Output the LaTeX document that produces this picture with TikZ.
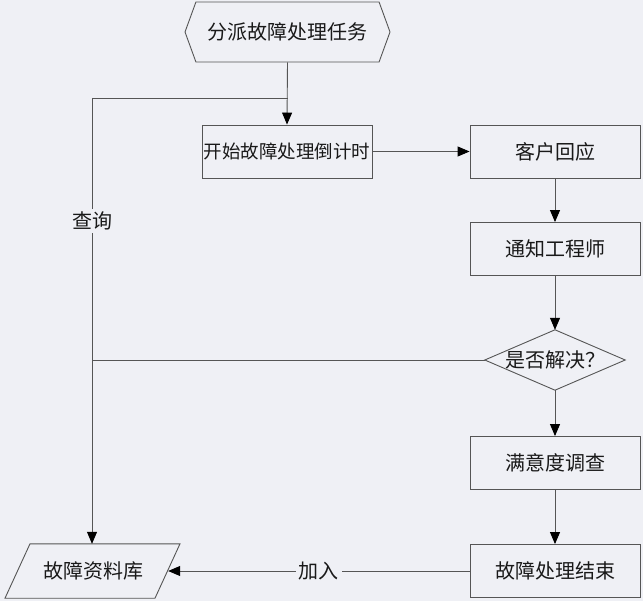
\documentclass[tikz,border=0pt]{standalone}
\usepackage{fontspec}
\newfontfamily\cjk{Noto Sans CJK SC}
\usetikzlibrary{shapes.geometric,shapes.symbols,arrows.meta}
\definecolor{bgc}{RGB}{239,240,245}
\definecolor{linec}{RGB}{85,85,85}
\definecolor{txtc}{RGB}{25,25,25}
\tikzset{
  base/.style={font=\cjk\fontsize{20}{24}\selectfont, text=txtc, inner sep=0pt},
  procbox/.style={base, draw=linec, line width=0.9pt, rectangle, minimum width=170pt, minimum height=53pt},
  hexbox/.style={base, draw=linec, line width=0.9pt, signal, signal to=west and east, signal pointer angle=140, minimum width=205pt, minimum height=60pt},
  textonly/.style={base, rectangle, minimum width=150pt, minimum height=54pt},
  decbox/.style={base, rectangle, minimum width=140pt, minimum height=60pt},
  conn/.style={draw=linec, line width=0.9pt},
  arr/.style={conn, -{Triangle[length=12pt,width=10pt,fill=black,color=black]}},
  lbl/.style={base, fill=bgc, inner sep=3pt}
}
\begin{document}
\begin{tikzpicture}[x=1pt,y=-1pt]
\fill[bgc] (0,0) rectangle (643,601);
\useasboundingbox (0,0) rectangle (643,601);

\node[hexbox] (hex) at (287.5,32) {分派故障处理任务};
\node[procbox, font=\cjk\fontsize{18.5}{22}\selectfont] (timer) at (287,151.5) {开始故障处理倒计时};
\node[procbox] (reply) at (555,151.5) {客户回应};
\node[procbox] (notify) at (555,249) {通知工程师};
\node[decbox] (solved) at (555,360) {是否解决？};
\draw[conn] (solved.west) -- (solved.north) -- (solved.east) -- (solved.south) -- cycle;
\node[procbox] (survey) at (555,463) {满意度调查};
\node[procbox] (finish) at (555,571) {故障处理结束};
\node[textonly] (db) at (93,571) {故障资料库};
\draw[conn] ([xshift=-88pt]db.south) -- ([xshift=-63pt]db.north) -- ([xshift=87pt]db.north) -- ([xshift=62pt]db.south) -- cycle;

\coordinate (q1) at (92,98);

\draw[arr] (hex.south) -- (timer.north);
\draw[conn] (q1) -- (hex.south |- q1);
\draw[arr] (q1) -- (q1 |- db.north);
\draw[conn] (solved.west) -- (q1 |- solved.west);
\node[lbl] (query) at (92,221) {查询};
\draw[arr] (timer.east) -- (reply.west);
\draw[arr] (reply.south) -- (notify.north);
\draw[arr] (notify.south) -- (solved.north);
\draw[arr] (solved.south) -- (survey.north);
\draw[arr] (survey.south) -- (finish.north);
\draw[arr] (finish.west) -- (db.east) node[lbl, pos=0.5] (join) {加入};
\end{tikzpicture}
\end{document}
